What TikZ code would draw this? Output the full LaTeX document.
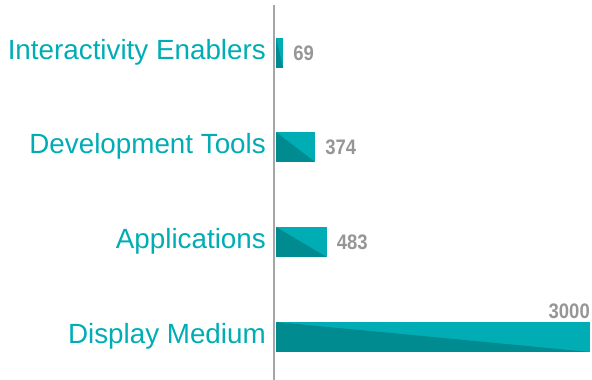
\documentclass[tikz,border=0pt]{standalone}
\usepackage{fontspec}
\setmainfont{Liberation Sans}
\newfontfamily\valfont[FakeStretch=0.88]{Liberation Sans}
\usepackage{tikz}
\usetikzlibrary{positioning, calc}

\definecolor{tealL}{RGB}{0,173,181}
\definecolor{tealD}{RGB}{0,139,144}
\definecolor{axisgray}{RGB}{165,165,170}
\definecolor{valgray}{RGB}{150,150,150}

\begin{document}
\begin{tikzpicture}[
        x=1pt, y=1pt,
        category/.style={
            anchor=base east,
            inner sep=0pt,
            text=tealL,
            font=\fontsize{27.8}{30}\selectfont
        },
        value/.style={
            anchor=base west,
            inner sep=0pt,
            text=valgray,
            font=\valfont\bfseries\fontsize{21}{24}\selectfont
        },
        barlight/.style={
            fill=tealL,
            draw=none
        },
        bardark/.style={
            fill=tealD,
            draw=none
        },
        axisline/.style={
            draw=axisgray,
            line width=2pt
        }
    ]

    \useasboundingbox (0,0) rectangle (592,380);

    \coordinate (C1) at (276, 327);
    \coordinate (C2) at (276, 233);
    \coordinate (C3) at (276, 138);
    \coordinate (C4) at (276, 43);

    \coordinate (axtop) at (274, 375);
    \coordinate (axbot) at (274, 0);

    % Interactivity Enablers
    \fill[barlight] ($(C1)+(0,-15)$) rectangle ($(C1)+(7.2,15)$);
    \fill[bardark] ($(C1)+(0,15)$) -- ($(C1)+(0,-15)$) -- ($(C1)+(7.2,-15)$) -- cycle;
    \node[category] (cat1) at ($(C1)+(-10,-7)$) {Interactivity Enablers};
    \node[value] (val1) at ($(C1)+(17.2,-7.5)$) {69};

    % Development Tools
    \fill[barlight] ($(C2)+(0,-15)$) rectangle ($(C2)+(39.1,15)$);
    \fill[bardark] ($(C2)+(0,15)$) -- ($(C2)+(0,-15)$) -- ($(C2)+(39.1,-15)$) -- cycle;
    \node[category] (cat2) at ($(C2)+(-10,-7)$) {Development Tools};
    \node[value] (val2) at ($(C2)+(49.1,-7.5)$) {374};

    % Applications
    \fill[barlight] ($(C3)+(0,-15)$) rectangle ($(C3)+(50.6,15)$);
    \fill[bardark] ($(C3)+(0,15)$) -- ($(C3)+(0,-15)$) -- ($(C3)+(50.6,-15)$) -- cycle;
    \node[category] (cat3) at ($(C3)+(-10,-7)$) {Applications};
    \node[value] (val3) at ($(C3)+(60.6,-7.5)$) {483};

    % Display Medium
    \fill[barlight] ($(C4)+(0,-15)$) rectangle ($(C4)+(314,15)$);
    \fill[bardark] ($(C4)+(0,15)$) -- ($(C4)+(0,-15)$) -- ($(C4)+(314,-15)$) -- cycle;
    \node[category] (cat4) at ($(C4)+(-10,-7)$) {Display Medium};
    \node[value, anchor=base east] (val4) at ($(C4)+(314,18)$) {3000};

    \draw[axisline] (axtop) -- (axbot);

\end{tikzpicture}
\end{document}
